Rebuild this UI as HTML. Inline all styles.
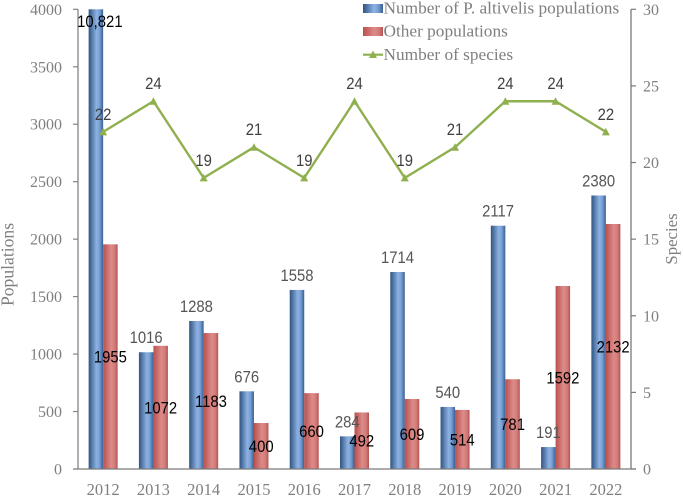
<!DOCTYPE html>
<html lang="en">
<head>
<meta charset="utf-8">
<title>Populations and species by year</title>
<style>
html,body{margin:0;padding:0;background:#fff;width:683px;height:497px;overflow:hidden}
svg{display:block}
.serif{font-family:"Liberation Serif",serif}
.sans{font-family:"Liberation Sans",sans-serif}
</style>
</head>
<body>
<svg id="chart" width="683" height="497" viewBox="0 0 683 497" xmlns="http://www.w3.org/2000/svg">
<defs>
<linearGradient id="blueGrad" x1="0" x2="1" y1="0" y2="0">
<stop offset="0" stop-color="#2f5482"/><stop offset="0.55" stop-color="#8db2e3"/><stop offset="0.75" stop-color="#78a0d4"/><stop offset="1" stop-color="#395f91"/>
</linearGradient>
<linearGradient id="redGrad" x1="0" x2="1" y1="0" y2="0">
<stop offset="0" stop-color="#b9504d"/><stop offset="0.55" stop-color="#dc8b89"/><stop offset="0.8" stop-color="#d27c7a"/><stop offset="1" stop-color="#b55350"/>
</linearGradient>
</defs>
<g id="plot"></g>
</svg>
<script>
const years = ['2012','2013','2014','2015','2016','2017','2018','2019','2020','2021','2022'];
const altivelisPopulations = [10821,1016,1288,676,1558,284,1714,540,2117,191,2380];
const otherPopulations = [1955,1072,1183,400,660,492,609,514,781,1592,2132];
const speciesCounts = [22,24,19,21,19,24,19,21,24,24,22];
const leftTicks = [0,500,1000,1500,2000,2500,3000,3500,4000];
const rightTicks = [0,5,10,15,20,25,30];
const leftMax = 4000;
const rightMax = 30;

const NS = 'http://www.w3.org/2000/svg';
const plot = document.getElementById('plot');
const X0 = 78, X1 = 631, Y0 = 469, Y1 = 9.3, BAR = 14.5;
const step = (X1 - X0) / years.length;
const cx = i => X0 + step * (i + 0.5);
const yL = v => Y0 - (Math.min(v, leftMax) / leftMax) * (Y0 - Y1);
const yR = v => Y0 - (v / rightMax) * (Y0 - Y1);

function make(tag, attrs, text) {
  const el = document.createElementNS(NS, tag);
  for (const k in attrs) el.setAttribute(k, attrs[k]);
  if (text !== undefined) el.textContent = text;
  plot.appendChild(el);
  return el;
}
function label(x, y, text, size, fill, cls, anchor) {
  return make('text', {x: x, y: y, 'font-size': size, fill: fill, class: cls, 'text-anchor': anchor || 'middle'}, text);
}
// tall, slightly condensed numerals like the reference's data labels
function valueLabel(x, y, text, fill) {
  const el = label(x, y, text, 16.5, fill, 'sans');
  el.setAttribute('textLength', (el.getComputedTextLength() * 0.9).toFixed(1));
  el.setAttribute('lengthAdjust', 'spacingAndGlyphs');
  return el;
}

// bars
years.forEach((yr, i) => {
  const a = make('rect', {x: cx(i) - BAR, y: yL(altivelisPopulations[i]), width: BAR, height: Y0 - yL(altivelisPopulations[i]), fill: 'url(#blueGrad)'});
  
  
  const o = make('rect', {x: cx(i), y: yL(otherPopulations[i]), width: BAR, height: Y0 - yL(otherPopulations[i]), fill: 'url(#redGrad)'});
  
  
});

// axes
const axisLeft = make('line', {x1: X0, x2: X0, y1: Y1, y2: Y0, stroke: '#868686', 'stroke-width': 1.3});


const axisRight = make('line', {x1: X1, x2: X1, y1: Y1, y2: Y0, stroke: '#7a7a7a', 'stroke-width': 1.3});


const axisBottom = make('line', {x1: 73, x2: 636, y1: Y0, y2: Y0, stroke: '#7a7a7a', 'stroke-width': 1.3});



leftTicks.forEach(t => {
  const m = make('line', {x1: 73, x2: X0, y1: yL(t), y2: yL(t), stroke: '#868686', 'stroke-width': 1.2});
  
  
  const l = label(62, yL(t) + 5.5, String(t), 16, '#7f7f7f', 'serif', 'end');
  
  
});
rightTicks.forEach(t => {
  const m = make('line', {x1: X1, x2: 636, y1: yR(t), y2: yR(t), stroke: '#7a7a7a', 'stroke-width': 1.2});
  
  
  const l = label(643, yR(t) + 5.5, String(t), 16, '#7f7f7f', 'serif', 'start');
  
  
});
years.forEach((yr, i) => {
  const l = label(cx(i), 495, yr, 16.5, '#7f7f7f', 'serif');
  
  
});

// species line
const pts = speciesCounts.map((v, i) => cx(i) + ',' + yR(v)).join(' ');
const line = make('polyline', {points: pts, fill: 'none', stroke: '#8fb04f', 'stroke-width': 2.4, 'stroke-linejoin': 'miter'});


speciesCounts.forEach((v, i) => {
  const x = cx(i), y = yR(v);
  const p = make('polygon', {points: (x - 4) + ',' + (y + 3.5) + ' ' + x + ',' + (y - 4) + ' ' + (x + 4) + ',' + (y + 3.5), fill: '#8fb04f'});
  
  
  const l = valueLabel(x, y - 12, String(v), '#404040');
  
  
});

// value labels
altivelisPopulations.forEach((v, i) => {
  const over = v > leftMax;
  const txt = over ? v.toLocaleString('en-US') : String(v);
  const l = valueLabel(cx(i) - BAR / 2 + (over ? 4 : 0), over ? 27 : yL(v) - 9, txt, over ? '#000' : '#555');
  
  
});
otherPopulations.forEach((v, i) => {
  const l = valueLabel(cx(i) + BAR / 2, (yL(v) + Y0) / 2 + 6, String(v), '#000');
  
  
});

// axis titles
const tl = make('text', {transform: 'translate(13.5,264.5) rotate(-90)', 'font-size': 17.6, fill: '#7f7f7f', class: 'serif', 'text-anchor': 'middle'}, 'Populations');


const tr = make('text', {transform: 'translate(677,239) rotate(-90)', 'font-size': 16.8, fill: '#7f7f7f', class: 'serif', 'text-anchor': 'middle'}, 'Species');



// legend
const s1 = make('rect', {x: 363, y: 4, width: 20, height: 9, fill: 'url(#blueGrad)'});


const t1 = label(383.5, 13.5, 'Number of P. altivelis populations', 17.3, '#7f7f7f', 'serif', 'start');


const s2 = make('rect', {x: 363, y: 27, width: 20, height: 9, fill: 'url(#redGrad)'});


const t2 = label(383.5, 36.7, 'Other populations', 17.3, '#7f7f7f', 'serif', 'start');


const s3 = make('line', {x1: 363, x2: 383, y1: 54.7, y2: 54.7, stroke: '#8fb04f', 'stroke-width': 2.2});


const s3m = make('polygon', {points: '369,58 373,50.5 377,58', fill: '#8fb04f'});


const t3 = label(383.5, 60, 'Number of species', 17.3, '#7f7f7f', 'serif', 'start');


</script>
</body>
</html>
